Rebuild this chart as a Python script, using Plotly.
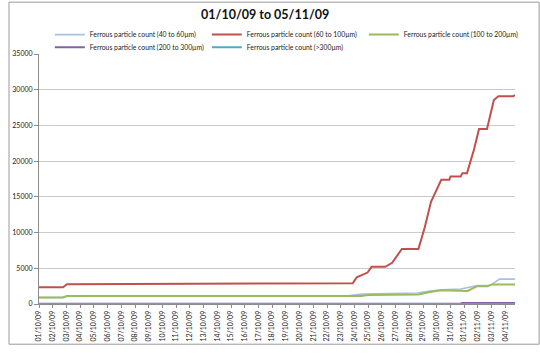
import plotly.graph_objects as go

# ---------------- data ----------------
title_text = "01/10/09 to 05/11/09"
series_names = [
    "Ferrous particle count (40 to 60µm)",
    "Ferrous particle count (60 to 100µm)",
    "Ferrous particle count (100 to 200µm)",
    "Ferrous particle count (200 to 300µm)",
    "Ferrous particle count (>300µm)",
]

t_40_60 = ["2009-10-01 00:00", "2009-10-02 18:00", "2009-10-03 01:00", "2009-10-23 12:00",
           "2009-10-24 13:00", "2009-10-28 14:00", "2009-10-29 12:00", "2009-10-30 08:00",
           "2009-10-31 18:00", "2009-11-01 23:00", "2009-11-02 22:00", "2009-11-03 14:00",
           "2009-11-04 17:00"]
v_40_60 = [920, 920, 1150, 1150, 1380, 1550, 1800, 2000, 2100, 2570, 2620, 3480, 3480]

t_60_100 = ["2009-10-01 00:00", "2009-10-02 18:00", "2009-10-03 01:00", "2009-10-09 07:00",
            "2009-10-19 23:00", "2009-10-20 01:00", "2009-10-23 21:00", "2009-10-24 04:00",
            "2009-10-24 09:00", "2009-10-24 17:00", "2009-10-24 23:00", "2009-10-25 06:00",
            "2009-10-26 06:00", "2009-10-26 18:00", "2009-10-27 11:00", "2009-10-28 16:00",
            "2009-10-29 03:00", "2009-10-29 14:00", "2009-10-30 08:00", "2009-10-30 22:00",
            "2009-10-31 00:00", "2009-10-31 18:00", "2009-10-31 21:00", "2009-11-01 05:00",
            "2009-11-01 17:00", "2009-11-02 02:00", "2009-11-02 16:00", "2009-11-03 04:00",
            "2009-11-03 12:00", "2009-11-04 14:00", "2009-11-04 17:00"]
v_60_100 = [2350, 2350, 2780, 2800, 2820, 2900, 2900, 3730, 3900, 4170, 4400, 5200,
            5200, 5760, 7700, 7700, 10700, 14300, 17400, 17400, 17860, 17860, 18320, 18320,
            21570, 24500, 24500, 28560, 29100, 29100, 29250]

t_100_200 = ["2009-10-01 00:00", "2009-10-02 18:00", "2009-10-03 01:00", "2009-10-24 12:00",
             "2009-10-25 00:00", "2009-10-28 16:00", "2009-10-29 12:00", "2009-10-30 08:00",
             "2009-11-01 06:00", "2009-11-01 23:00", "2009-11-02 17:00", "2009-11-03 01:00",
             "2009-11-04 17:00"]
v_100_200 = [920, 920, 1120, 1120, 1250, 1330, 1690, 1920, 1830, 2500, 2500, 2740, 2740]

t_200_300 = ["2009-10-01 00:00", "2009-10-31 18:00", "2009-10-31 20:00", "2009-11-04 17:00"]
v_200_300 = [30, 30, 140, 140]

t_gt300 = ["2009-10-01 00:00", "2009-11-04 17:00"]
v_gt300 = [10, 10]

colors = ["#A9C1DF", "#C0504D", "#9BBB59", "#8064A2", "#4BACC6"]
widths = [1.6, 2, 2, 2, 2]

# ---------------- figure ----------------
FONT = "Lato, 'Open Sans', sans-serif"
fig = go.Figure()
xs = [t_40_60, t_60_100, t_100_200, t_200_300, t_gt300]
ys = [v_40_60, v_60_100, v_100_200, v_200_300, v_gt300]
for i in range(5):
    fig.add_trace(go.Scatter(
        x=xs[i], y=ys[i], mode="lines", name=series_names[i],
        line=dict(color=colors[i], width=widths[i]),
        legend="legend" if i < 3 else "legend2",
    ))

W, H = 540, 354
L, R, T, B = 31, 25, 54, 42
pw, ph = W - L - R, H - T - B

def px_x(p):
    return (p - L) / pw

def px_y(p):
    return (H - B - p) / ph

legend_common = dict(
    orientation="h", xanchor="left", yanchor="middle",
    font=dict(family=FONT, size=6.8, color="#222"),
    entrywidth=112, entrywidthmode="pixels",
    bgcolor="rgba(0,0,0,0)", borderwidth=0,
    itemclick=False, itemdoubleclick=False,
)

fig.update_layout(
    width=W, height=H,
    margin=dict(l=L, r=R, t=T, b=B),
    paper_bgcolor="white", plot_bgcolor="white",
    font=dict(family=FONT, size=7, color="#222"),
    title=dict(text="<b>" + title_text + "</b>", x=px_x(261), xref="paper",
               xanchor="center", y=1 - 15 / H, yref="container", yanchor="middle",
               font=dict(family=FONT, size=12.5, color="#111")),
    legend=dict(x=px_x(42), y=px_y(34), **legend_common),
    legend2=dict(x=px_x(42), y=px_y(47), **legend_common),
    xaxis=dict(
        type="date", range=["2009-10-01 00:00", "2009-11-04 17:00"],
        tick0="2009-10-01", dtick=86400000, tickformat="%d/%m/%y",
        tickangle=-90, showgrid=False, showline=True, linecolor="#8c8c8c",
        linewidth=1, ticks="outside", ticklen=3, tickcolor="#8c8c8c",
        tickfont=dict(family=FONT, size=7, color="#222"), zeroline=False,
    ),
    yaxis=dict(
        range=[0, 35000], dtick=5000, tickformat="d", showgrid=True,
        gridcolor="#CACACA", gridwidth=1, showline=True, linecolor="#8c8c8c",
        linewidth=1, ticks="outside", ticklen=4, tickcolor="#8c8c8c", zeroline=False,
        tickfont=dict(family=FONT, size=7, color="#222"),
    ),
    shapes=[dict(type="rect", xref="paper", yref="paper",
                 x0=px_x(0.5), x1=px_x(539.5), y0=px_y(353.5), y1=px_y(0.5),
                 line=dict(color="#9a9a9a", width=1), layer="below")],
    showlegend=True,
)

fig.write_html("out.html")
